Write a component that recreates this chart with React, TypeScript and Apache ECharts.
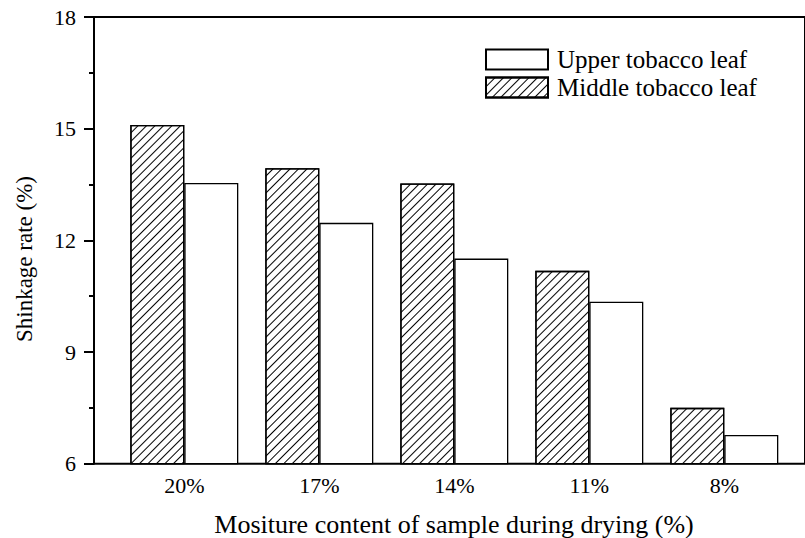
import React, { useEffect, useRef } from "react";
import * as echarts from "echarts";

const categories = ["20%", "17%", "14%", "11%", "8%"];
const middleValues = [15.1, 13.94, 13.53, 11.18, 7.5];
const upperValues = [13.54, 12.47, 11.51, 10.35, 6.77];
const seriesNames = ["Middle tobacco leaf", "Upper tobacco leaf"];
const legendOrder = ["Upper tobacco leaf", "Middle tobacco leaf"];
const xTitle = "Mositure content of sample during drying (%)";
const yTitle = "Shinkage rate (%)";

const FONT = '"Liberation Serif", "Times New Roman", serif';

export default function App() {
  const ref = useRef<HTMLDivElement>(null);
  useEffect(() => {
    if (!ref.current) return;
    const chart = echarts.init(ref.current, undefined, { renderer: "svg" });
    const top = 17;
    const height = 446.7;
    chart.setOption({
      animation: false,
      backgroundColor: "#fff",
      textStyle: { fontFamily: FONT, color: "#000" },
      grid: [
        { left: 116.8, width: 675, top, height, show: false },
        { left: 94, width: 730, top, height, show: true, borderColor: "#000", borderWidth: 2, backgroundColor: "transparent" },
      ],
      legend: {
        data: legendOrder,
        orient: "vertical",
        left: 485,
        top: 47,
        padding: 0,
        icon: "rect",
        itemWidth: 62,
        itemHeight: 20,
        itemGap: 3,
        textStyle: { fontFamily: FONT, fontSize: 25, lineHeight: 22, color: "#000", padding: [0, 0, 0, 4] },
      },
      xAxis: [
        {
          type: "category",
          gridIndex: 0,
          data: categories,
          axisLine: { show: false },
          axisTick: { show: false },
          axisLabel: { fontFamily: FONT, fontSize: 22, color: "#000", margin: 11 },
          splitLine: { show: false },
        },
        { type: "value", gridIndex: 1, show: false },
      ],
      yAxis: [
        {
          type: "value",
          gridIndex: 0,
          min: 6,
          max: 18,
          interval: 3,
          offset: 22.8,
          axisLine: { show: true, lineStyle: { color: "#000", width: 2 } },
          axisTick: { show: true, inside: false, length: 10, lineStyle: { color: "#000", width: 2 } },
          minorTick: { show: true, splitNumber: 2, length: 5, lineStyle: { color: "#000", width: 2 } },
          axisLabel: { fontFamily: FONT, fontSize: 22, color: "#000", margin: 18 },
          splitLine: { show: false },
        },
        { type: "value", gridIndex: 1, show: false, min: 6, max: 18 },
      ],
      series: [
        {
          name: seriesNames[0],
          type: "bar",
          xAxisIndex: 0,
          yAxisIndex: 0,
          data: middleValues,
          barWidth: 54,
          barGap: "0%",
          itemStyle: {
            color: "#fff",
            borderColor: "#000",
            borderWidth: 1.3,
            decal: {
              symbol: "rect",
              symbolSize: 1,
              dashArrayX: [1, 0],
              dashArrayY: [0.8, 4.6],
              rotation: -Math.PI / 4,
              color: "#000",
            },
          },
        },
        {
          name: seriesNames[1],
          type: "bar",
          xAxisIndex: 0,
          yAxisIndex: 0,
          data: upperValues,
          barWidth: 54,
          barGap: "0%",
          itemStyle: { color: "#fff", borderColor: "#000", borderWidth: 1.3 },
        },
      ],
      graphic: [
        {
          type: "text",
          x: 454,
          y: 524,
          style: { text: xTitle, fontFamily: FONT, fontSize: 26, fill: "#000", textAlign: "center", textVerticalAlign: "middle" },
        },
        {
          type: "text",
          x: 24,
          y: 259,
          rotation: Math.PI / 2,
          style: { text: yTitle, fontFamily: FONT, fontSize: 23, fill: "#000", textAlign: "center", textVerticalAlign: "middle" },
        },
      ],
    });
    return () => chart.dispose();
  }, []);
  return <div ref={ref} style={{ position: "absolute", left: 0, top: 0, width: 805, height: 538 }} />;
}
